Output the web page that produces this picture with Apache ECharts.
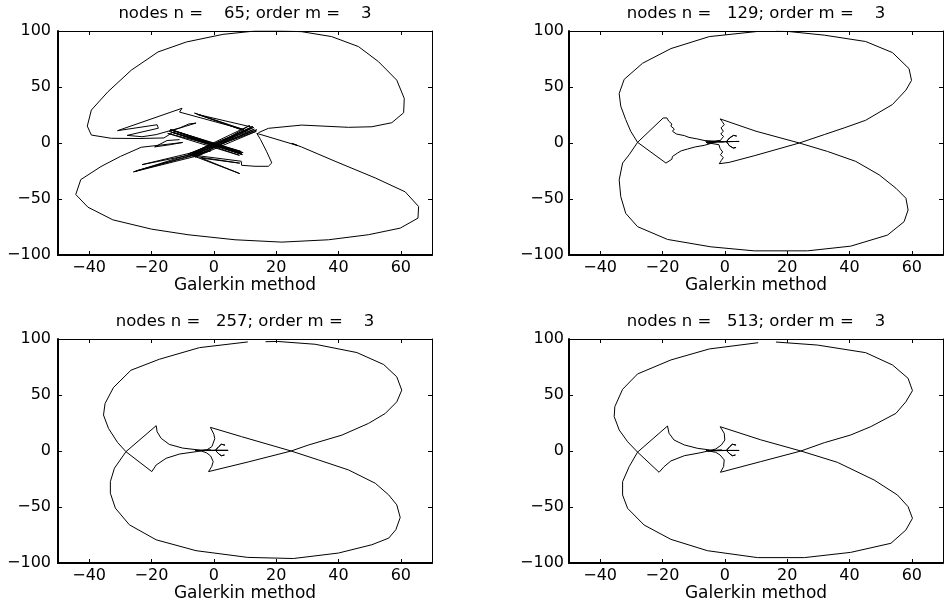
<!DOCTYPE html>
<html><head><meta charset="utf-8">
<script src="https://cdn.jsdelivr.net/npm/echarts@6/dist/echarts.min.js"></script>
<style>html,body{margin:0;padding:0;background:#fff}#c{width:944px;height:605px}</style>
</head><body><div id="c"></div>
<script>
const xTicks = [-40, -20, 0, 20, 40, 60];
const titles = [
  'nodes n =    65; order m =    3',
  'nodes n =   129; order m =    3',
  'nodes n =   257; order m =    3',
  'nodes n =   513; order m =    3'
];
const xLabel = 'Galerkin method';

const path65 = [
[-11.0,3.0],[-15.0,2.2],[-19.0,-3.5],[-14.0,-1.5],[-10.0,0.5],[-16.0,-1.5],[-23.3,-3.8],[-30.0,-12.0],[-36.2,-21.0],[-42.7,-32.7],[-44.3,-46.0],[-40.4,-57.3],[-32.4,-68.6],[-20.0,-76.9],[-8.3,-81.9],[6.8,-86.4],[21.8,-88.5],[36.8,-86.4],[49.6,-81.9],[59.8,-76.0],[65.5,-67.1],[65.7,-56.7],[61.4,-43.6],[51.8,-31.2],[38.9,-16.3],[28.2,-3.6],[25.0,-0.3],[27.0,-2.4],[13.8,8.6],
[15.0,3.0],[16.9,-7.4],[18.6,-17.8],[17.5,-20.8],[13.2,-20.8],[8.9,-19.9],
[8.8,-16.3],[-7.5,-10.5],[8.3,-27.3],[-4.0,-13.5],[8.3,-18.0],[-6.0,-12.0],
[-25.8,-25.8],[-3.0,-6.0],[-23.0,-19.3],[-1.0,-7.0],[-25.0,-25.0],[-4.0,-8.5],
[-6.8,-11.9],[12.5,14.8],[-7.6,-10.8],[13.6,10.4],[-6.0,-12.6],[12.0,13.4],[-8.2,-9.8],[13.0,12.4],[-5.4,-11.4],[11.5,15.6],[-7.0,-9.0],[13.8,11.8],[-6.4,-10.2],[12.8,13.8],
[-5.2,25.5],[10.4,10.4],[-6.2,26.7],[9.6,12.0],[-11.0,27.6],
[-10.2,31.0],[-30.9,11.0],[-18.2,16.3],[-17.8,13.2],[-27.8,6.8],[-23.0,5.6],[-18.5,7.5],
[-11.0,13.4],[-8.0,17.0],[-5.7,17.8],[-9.0,15.0],
[-14.3,10.4],[8.8,-9.8],[-13.6,11.6],[9.4,-8.6],[-14.8,8.6],[8.2,-11.0],[-13.0,9.4],[9.2,-10.4],[-14.0,12.0],[8.6,-7.4],[-13.8,9.8],[9.0,-9.2],[-12.4,10.8],
[-16.0,4.5],[-24.0,4.0],[-32.9,4.2],[-39.3,7.1],[-40.6,15.1],[-39.3,29.4],[-34.0,45.7],[-26.5,65.0],[-17.9,81.3],[-8.8,90.2],[2.9,97.0],[13.2,100.0],[22.0,100.0],[28.2,99.4],[37.8,95.0],[46.4,86.1],[52.8,72.7],[58.7,56.1],[61.1,39.8],[60.9,27.0],[57.1,18.1],[50.7,14.5],[43.2,14.0],[28.2,16.0],[17.5,13.1],[14.3,9.2]
];

const path129 = [
[16.4,99.8],[20.6,99.5],[31.9,96.3],[45.2,90.6],[53.8,80.7],[59.1,66.4],[59.9,55.9],[58.1,47.2],[53.8,34.4],[45.2,20.3],[38.3,13.5],[31.9,7.5],[23.9,0.0],[9.4,-11.4],[1.4,-17.3],[-1.8,-18.5],
[-1.1,-15.5],[-0.5,-13.0],[-1.4,-10.5],[-0.7,-8.0],[-1.5,-5.0],[-1.9,-1.5],
[-6.0,0.4],[-1.5,2.2],[-5.6,-0.2],[-1.2,1.4],[-6.2,1.8],[-1.0,0.6],
[0.5,1.2],[1.5,4.5],[2.8,6.8],[3.8,6.2],[2.8,6.8],[1.5,4.5],[0.5,1.2],[4.6,1.4],[0.5,1.2],[1.5,-2.5],[2.7,-4.5],[3.6,-4.0],[2.7,-4.5],[1.5,-2.5],[0.5,1.2],[-3.0,1.5],
[-5.6,1.6],[-8.8,3.6],[-11.5,5.0],[-13.0,6.6],[-15.5,8.0],[-16.8,10.5],[-16.2,12.5],[-17.3,15.0],[-17.0,17.0],[-18.0,19.5],[-18.6,22.4],[-19.8,22.3],
[-28.0,0.6],[-30.7,-10.5],[-32.8,-17.9],[-33.9,-32.9],[-33.4,-47.8],[-31.8,-62.8],[-28.0,-74.7],[-18.4,-86.1],[-4.5,-92.7],[9.4,-96.3],[26.5,-96.3],[40.4,-92.1],[52.2,-82.2],[57.5,-70.3],[58.8,-59.8],[58.1,-49.3],[54.9,-40.4],[49.5,-28.4],[42.0,-16.4],[32.9,-7.5],[23.9,0.0],[10.0,10.5],[-1.5,21.5],
[-0.8,19.0],[-0.2,16.4],[-1.2,13.5],[-0.5,10.5],[-1.3,8.0],[-0.4,5.9],[-1.5,2.1],[-3.0,0.8],
[-6.6,-2.1],[-9.5,-3.5],[-12.0,-5.4],[-14.0,-7.0],[-15.2,-9.0],[-16.8,-12.0],[-17.0,-14.5],[-18.9,-17.9],[-19.4,-18.6],
[-28.0,0.6],[-30.2,10.5],[-31.8,20.9],[-33.4,32.9],[-33.9,44.2],[-32.3,56.8],[-26.4,71.2],[-17.3,84.3],[-5.0,95.0],[10.5,99.6]
];

const path257 = [
[16.6,97.6],[20.5,97.8],[32.5,95.3],[45.9,87.9],[54.5,77.2],[58.7,66.2],[60.3,54.3],[58.7,43.9],[55.0,33.5],[49.6,24.6],[41.1,14.2],[30.3,5.3],[24.8,0.0],[11.0,-9.8],[-1.7,-18.4],
[-0.7,-14.0],[-0.2,-9.5],[-1.0,-4.5],[-2.3,-1.7],[-4.0,0.0],
[-6.0,0.6],[-1.0,0.9],[-5.5,0.2],[0.5,0.6],[1.6,4.0],[2.4,6.0],[3.6,5.3],[2.4,6.0],[1.6,4.0],[0.5,0.6],[4.6,0.6],[0.5,0.6],[1.6,-2.6],[2.4,-4.2],[3.4,-3.6],[2.4,-4.2],[1.6,-2.6],[0.5,0.6],[-4.0,0.6],
[-5.7,1.2],[-10.0,2.6],[-14.3,5.9],[-16.9,11.3],[-18.2,17.2],[-18.5,22.6],
[-28.2,-0.6],[-31.9,-15.4],[-33.2,-27.3],[-33.2,-37.7],[-31.6,-51.0],[-27.1,-65.9],[-18.5,-79.3],[-5.7,-89.0],[10.9,-95.0],[25.5,-96.0],[40.0,-91.1],[50.7,-83.7],[56.1,-77.8],[58.4,-70.3],[59.8,-59.4],[58.7,-48.1],[56.1,-39.2],[51.8,-28.8],[43.2,-16.9],[33.6,-8.0],[24.8,0.0],[8.9,12.8],[-1.1,21.1],
[0.0,15.0],[0.3,11.0],[-0.6,4.0],[-2.3,0.9],[-4.0,0.3],
[-5.7,-0.6],[-11.0,-2.7],[-15.3,-6.5],[-18.5,-12.5],[-19.9,-18.4],
[-28.2,-0.6],[-30.9,7.7],[-33.8,20.2],[-35.4,32.1],[-34.9,42.4],[-32.2,56.7],[-26.6,72.1],[-17.5,81.9],[-4.6,92.3],[10.9,97.4]
];

const path513 = [
[16.4,97.3],[29.7,94.6],[45.2,87.8],[53.8,76.8],[58.8,64.9],[60.2,53.9],[58.1,44.0],[54.9,33.6],[46.8,21.7],[40.4,14.3],[31.9,7.4],[24.4,0.0],[11.5,-9.5],[-1.4,-19.0],
[-0.4,-14.0],[-0.2,-8.0],[-1.5,-3.6],[-2.9,-1.2],[-4.5,-0.3],
[-6.0,0.3],[-1.0,0.8],[-5.5,0.0],[0.5,0.5],[1.6,4.0],[2.4,6.0],[3.6,5.3],[2.4,6.0],[1.6,4.0],[0.5,0.5],[4.6,0.5],[0.5,0.5],[1.6,-2.6],[2.4,-4.2],[3.4,-3.6],[2.4,-4.2],[1.6,-2.6],[0.5,0.5],[-4.0,0.6],
[-4.5,0.9],[-8.8,2.4],[-13.0,5.4],[-16.3,9.8],[-17.9,15.8],[-18.4,22.3],
[-28.0,-1.0],[-30.7,-14.0],[-32.8,-27.4],[-32.8,-39.3],[-31.2,-51.2],[-25.9,-66.1],[-17.3,-78.9],[-5.6,-89.0],[10.5,-95.2],[25.5,-95.2],[40.4,-90.5],[53.3,-82.4],[58.1,-70.5],[60.2,-60.1],[58.8,-49.7],[55.4,-39.3],[47.9,-25.9],[36.1,-10.1],[24.4,0.0],[11.5,10.0],[-1.5,21.7],
[-0.2,15.8],[0.0,9.8],[-1.1,5.4],[-2.9,1.8],[-4.5,0.6],
[-7.7,-1.5],[-13.0,-4.2],[-17.3,-8.9],[-19.5,-14.0],[-21.1,-19.0],
[-28.0,-1.0],[-31.2,8.3],[-33.9,18.8],[-35.5,30.7],[-35.3,39.6],[-32.8,55.1],[-28.0,68.8],[-17.3,81.3],[-5.0,91.1],[10.7,96.7]
];

const paths = [path65, path129, path257, path513];
const grids = [
  {left: 58, top: 31, width: 374, height: 224},
  {left: 569, top: 31, width: 374, height: 224},
  {left: 58, top: 339, width: 374, height: 224},
  {left: 569, top: 339, width: 374, height: 224}
];
const fontFamily = 'DejaVu Sans';
const minus = v => String(v).replace('-', '\u2212');

const xAxes = [], yAxes = [], series = [];
grids.forEach((g, i) => {
  const labelMargin = g.left > 300 ? 5 : 7;
  xAxes.push({
    type: 'value', gridIndex: i, min: -50, max: 70, position: 'bottom',
    name: xLabel, nameLocation: 'middle', nameGap: 21,
    nameTextStyle: {fontFamily, fontSize: 17, color: '#000'},
    axisLine: {show: true, onZero: false, lineStyle: {color: '#000', width: 2}},
    axisTick: {show: true, inside: true, length: 4, customValues: xTicks, lineStyle: {color: '#000', width: 1}},
    axisLabel: {show: true, customValues: xTicks, formatter: minus, margin: 5, fontFamily, fontSize: 16, color: '#000'},
    splitLine: {show: false}
  });
  xAxes.push({
    type: 'value', gridIndex: i, min: -50, max: 70, position: 'top',
    axisLine: {show: true, onZero: false, lineStyle: {color: '#000', width: 1}},
    axisTick: {show: true, inside: true, length: 4, customValues: xTicks, lineStyle: {color: '#000', width: 1}},
    axisLabel: {show: false}, splitLine: {show: false}
  });
  yAxes.push({
    type: 'value', gridIndex: i, min: -100, max: 100, interval: 50, position: 'left',
    axisLine: {show: true, onZero: false, lineStyle: {color: '#000', width: 2}},
    axisTick: {show: true, inside: true, length: 4, lineStyle: {color: '#000', width: 1}},
    axisLabel: {show: true, formatter: minus, margin: labelMargin, fontFamily, fontSize: 16, color: '#000'},
    splitLine: {show: false}
  });
  yAxes.push({
    type: 'value', gridIndex: i, min: -100, max: 100, interval: 50, position: 'right',
    axisLine: {show: true, onZero: false, lineStyle: {color: '#000', width: 1}},
    axisTick: {show: true, inside: true, length: 4, lineStyle: {color: '#000', width: 1}},
    axisLabel: {show: false}, splitLine: {show: false}
  });
  series.push({
    type: 'line', xAxisIndex: 2 * i, yAxisIndex: 2 * i, data: paths[i],
    symbol: 'none', showSymbol: false, silent: true, animation: false,
    lineStyle: {color: '#000', width: 1}
  });
});

const chart = echarts.init(document.getElementById('c'), null, {renderer: 'canvas'});
chart.setOption({
  animation: false,
  backgroundColor: '#fff',
  title: grids.map((g, i) => ({
    text: titles[i], left: g.left + g.width / 2, top: g.top - 26, textAlign: 'center', padding: 0,
    textStyle: {fontFamily, fontSize: 16.5, fontWeight: 'normal', color: '#000'}
  })),
  grid: grids.map(g => Object.assign({containLabel: false}, g)),
  xAxis: xAxes,
  yAxis: yAxes,
  series: series
});
</script>
</body></html>
